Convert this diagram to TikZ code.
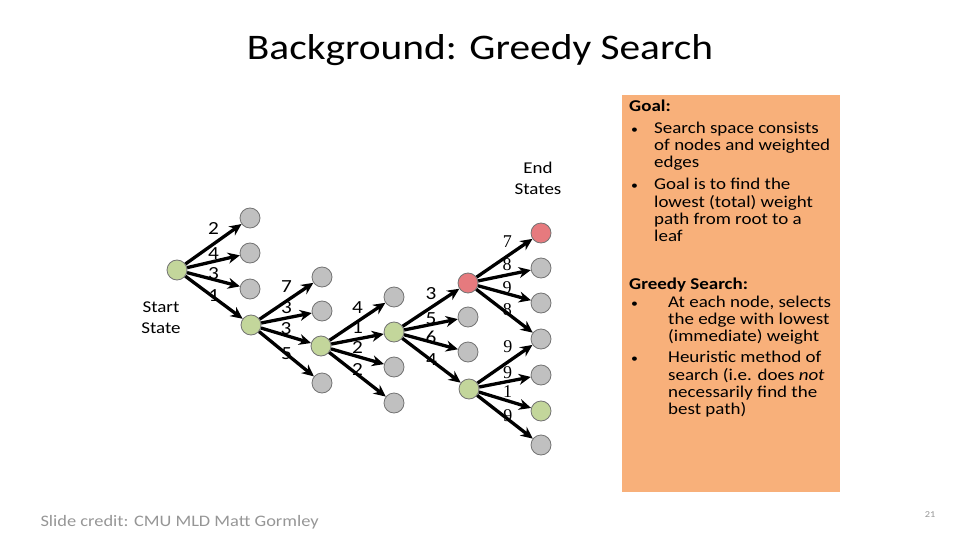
\documentclass[tikz,border=0pt]{standalone}
\usepackage{fontspec}
\setmainfont{Carlito}[FakeStretch=1.15]
\newfontfamily\serifnum{Liberation Serif}
\usetikzlibrary{arrows.meta}
\definecolor{nodegray}{RGB}{192,192,192}
\definecolor{nodegreen}{RGB}{195,214,155}
\definecolor{nodered}{RGB}{230,122,126}
\definecolor{boxorange}{RGB}{248,176,122}
\definecolor{creditgray}{RGB}{150,150,150}
\newcommand{\dotmark}{{\fontsize{12}{12}\selectfont\textbullet}}

\begin{document}
\begin{tikzpicture}[x=1pt, y=-1pt,
        state/.style={circle, draw=black!55, line width=0.8pt, minimum size=20pt, inner sep=0pt, fill=nodegray},
        edge/.style={-{Stealth[length=12pt,width=11pt]}, line width=3.3pt},
        weight/.style={inner sep=0pt, font=\fontsize{18.5}{19}\selectfont},
        boxtext/.style={inner sep=0pt, align=left, anchor=north west, font=\fontsize{16.5}{17.3}\selectfont}]
    \useasboundingbox (0,0) rectangle (960,540);
    \node [font=\fontsize{36}{40}\selectfont] (title) at (480,50) {Background: Greedy Search};

    \node [state, fill=nodegreen] (S) at (177,270) {};
    \node [align=center, font=\fontsize{16.5}{21}\selectfont] (start) at (161,318) {Start\\State};
    \node [align=center, font=\fontsize{16.5}{21}\selectfont] (end) at (538,178) {End\\States};

    \node [state] (A1) at (250,218) {};
    \node [state] (A2) at (250,253) {};
    \node [state] (A3) at (250,289) {};
    \node [state, fill=nodegreen] (A4) at (251,325) {};
    \node [state] (B1) at (322,277) {};
    \node [state] (B2) at (322,311) {};
    \node [state, fill=nodegreen] (B3) at (321,346) {};
    \node [state] (B4) at (322,383) {};
    \node [state] (C1) at (394,297) {};
    \node [state, fill=nodegreen] (C2) at (394,332) {};
    \node [state] (C3) at (394,367) {};
    \node [state] (C4) at (394,403) {};
    \node [state, fill=nodered] (D1) at (468,283) {};
    \node [state] (D2) at (468,317) {};
    \node [state] (D3) at (468,352) {};
    \node [state, fill=nodegreen] (D4) at (469,389) {};
    \node [state, fill=nodered] (E1) at (541,233) {};
    \node [state] (E2) at (541,268) {};
    \node [state] (E3) at (541,303) {};
    \node [state] (E4) at (541,339) {};
    \node [state] (E5) at (541,375) {};
    \node [state, fill=nodegreen] (E6) at (541,411) {};
    \node [state] (E7) at (541,445) {};

    \foreach \u/\v/\w/\o in {S/A1/2/16, S/A2/4/8, S/A3/3/6, S/A4/1/2,
            A4/B1/7/14, A4/B2/3/10, A4/B3/3/7, A4/B4/5/0,
            B3/C1/4/14, B3/C2/1/11, B3/C3/2/9, B3/C4/2/5,
            C2/D1/3/14, C2/D2/5/6, C2/D3/6/5, C2/D4/4/1}{
        \draw [edge] (\u) -- (\v) node [weight, pos=.5, yshift=\o pt] {\w};
    }
    \foreach \u/\v/\w/\o in {D1/E1/7/14, D1/E2/8/10, D1/E3/9/6, D1/E4/8/4,
            D4/E4/9/15, D4/E5/9/9, D4/E6/1/9, D4/E7/9/4}{
        \draw [edge] (\u) -- (\v) node [weight, font=\serifnum\fontsize{18}{18}\selectfont, pos=.55, yshift=\o pt] {\w};
    }

    \fill [boxorange] (622,95) rectangle (840,492);
    \node [boxtext] (goal) at (629,100) {\textbf{Goal:}\\[4pt]
        \makebox[25pt][l]{\hspace*{2pt}\dotmark}Search space consists\\
        \hspace*{25pt}of nodes and weighted\\
        \hspace*{25pt}edges\\[5pt]
        \makebox[25pt][l]{\hspace*{2pt}\dotmark}Goal is to find the\\
        \hspace*{25pt}lowest (total) weight\\
        \hspace*{25pt}path from root to a\\
        \hspace*{25pt}leaf};
    \node [boxtext] (greedy) at (629,278) {\textbf{Greedy Search:}\\
        \makebox[39pt][l]{\hspace*{2pt}\dotmark}At each node, selects\\
        \hspace*{39pt}the edge with lowest\\
        \hspace*{39pt}(immediate) weight\\[4pt]
        \makebox[39pt][l]{\hspace*{2pt}\dotmark}Heuristic method of\\
        \hspace*{39pt}search (i.e. does \textit{not}\\
        \hspace*{39pt}necessarily find the\\
        \hspace*{39pt}best path)};

    \node [anchor=west, text=creditgray, font=\fontsize{16}{18}\selectfont] (credit) at (37,522) {Slide credit: CMU MLD Matt Gormley};
    \node [text=creditgray, font=\fontsize{9}{10}\selectfont] (page) at (930,515) {21};
\end{tikzpicture}
\end{document}
